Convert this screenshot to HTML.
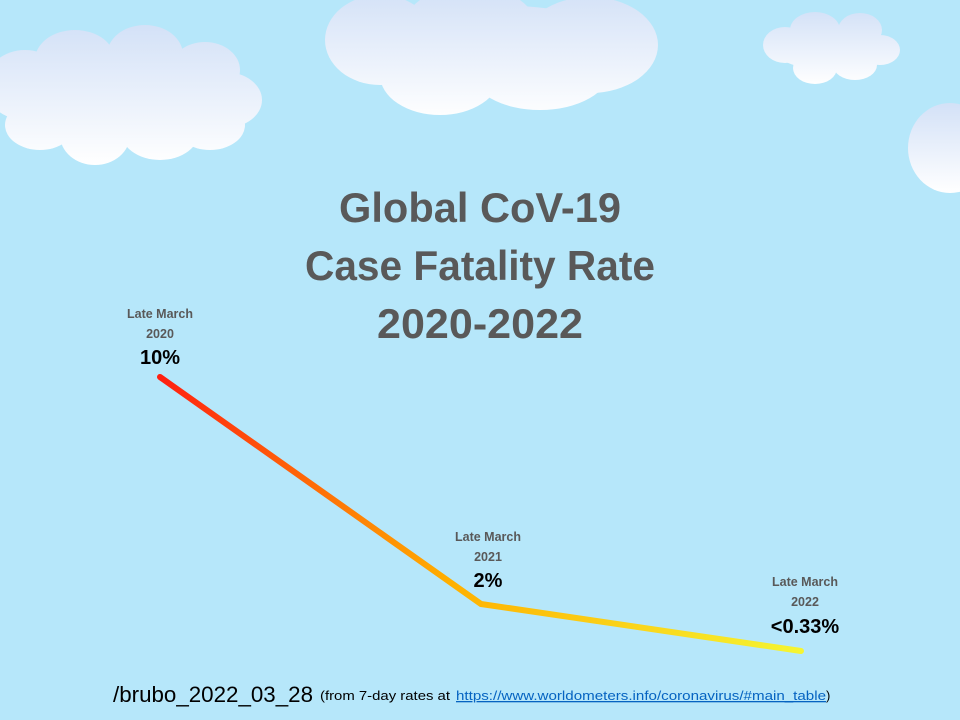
<!DOCTYPE html>
<html><head><style>body{margin:0}svg{display:block}</style></head><body>
<svg width="960" height="720" xmlns="http://www.w3.org/2000/svg" font-family="Liberation Sans, sans-serif">
<defs>
<linearGradient id="c1" gradientUnits="userSpaceOnUse" x1="0" y1="24" x2="0" y2="165"><stop offset="0" stop-color="#d3e1f7"/><stop offset="1" stop-color="#ffffff"/></linearGradient>
<linearGradient id="c2" gradientUnits="userSpaceOnUse" x1="0" y1="-10" x2="0" y2="120"><stop offset="0" stop-color="#d3e1f7"/><stop offset="1" stop-color="#ffffff"/></linearGradient>
<linearGradient id="c3" gradientUnits="userSpaceOnUse" x1="0" y1="10" x2="0" y2="85"><stop offset="0" stop-color="#d3e1f7"/><stop offset="1" stop-color="#ffffff"/></linearGradient>
<linearGradient id="c4" gradientUnits="userSpaceOnUse" x1="0" y1="103" x2="0" y2="193"><stop offset="0" stop-color="#d3e1f7"/><stop offset="1" stop-color="#ffffff"/></linearGradient>
<linearGradient id="lg" gradientUnits="userSpaceOnUse" x1="160" y1="377" x2="801" y2="651"><stop offset="0" stop-color="#ff2010"/><stop offset="0.5" stop-color="#ffb000"/><stop offset="1" stop-color="#f5f532"/></linearGradient>
</defs>
<rect width="960" height="720" fill="#b6e7fa"/>
<g fill="url(#c1)">
<ellipse cx="25" cy="85" rx="40" ry="35"/><ellipse cx="75" cy="60" rx="40" ry="30"/><ellipse cx="145" cy="55" rx="38" ry="30"/><ellipse cx="205" cy="70" rx="35" ry="28"/><ellipse cx="225" cy="100" rx="37" ry="28"/><ellipse cx="210" cy="125" rx="35" ry="25"/><ellipse cx="160" cy="130" rx="40" ry="30"/><ellipse cx="95" cy="135" rx="35" ry="30"/><ellipse cx="40" cy="125" rx="35" ry="25"/><ellipse cx="130" cy="100" rx="100" ry="45"/>
</g>
<g fill="url(#c2)">
<ellipse cx="380" cy="40" rx="55" ry="45"/><ellipse cx="470" cy="35" rx="70" ry="50"/><ellipse cx="590" cy="45" rx="68" ry="48"/><ellipse cx="540" cy="70" rx="70" ry="40"/><ellipse cx="440" cy="75" rx="60" ry="40"/><ellipse cx="490" cy="50" rx="150" ry="45"/>
</g>
<g fill="url(#c3)">
<ellipse cx="785" cy="45" rx="22" ry="18"/><ellipse cx="815" cy="30" rx="25" ry="18"/><ellipse cx="860" cy="30" rx="22" ry="17"/><ellipse cx="880" cy="50" rx="20" ry="15"/><ellipse cx="855" cy="65" rx="22" ry="15"/><ellipse cx="815" cy="68" rx="22" ry="16"/><ellipse cx="830" cy="50" rx="55" ry="20"/>
</g>
<ellipse cx="950" cy="148" rx="42" ry="45" fill="url(#c4)"/>
<g fill="#595959" font-weight="bold" text-anchor="middle" font-size="42">
<text x="480" y="222" textLength="282" lengthAdjust="spacingAndGlyphs">Global CoV-19</text>
<text x="480" y="280" textLength="350" lengthAdjust="spacingAndGlyphs">Case Fatality Rate</text>
<text x="480" y="338" textLength="206" lengthAdjust="spacingAndGlyphs">2020-2022</text>
</g>
<polyline points="160,377 481,604 801,651" fill="none" stroke="url(#lg)" stroke-width="6" stroke-linecap="round" stroke-linejoin="round"/>
<g text-anchor="middle" font-weight="bold">
<g fill="#595959" font-size="12.5">
<text x="160" y="318">Late March</text><text x="160" y="338">2020</text>
<text x="488" y="541">Late March</text><text x="488" y="561">2021</text>
<text x="805" y="586">Late March</text><text x="805" y="606">2022</text>
</g>
<g fill="#000" font-size="20">
<text x="160" y="364">10%</text><text x="488" y="587">2%</text><text x="805" y="633">&lt;0.33%</text>
</g>
</g>
<text x="113" y="702" font-size="22" fill="#000" textLength="200" lengthAdjust="spacingAndGlyphs">/brubo_2022_03_28</text>
<text x="320" y="700" font-size="13" fill="#000" textLength="130" lengthAdjust="spacingAndGlyphs">(from 7-day rates at</text>
<text x="456" y="700" font-size="13" fill="#0563c1" text-decoration="underline" textLength="370" lengthAdjust="spacingAndGlyphs">https://www.worldometers.info/coronavirus/#main_table</text>
<text x="826" y="700" font-size="13" fill="#000">)</text>
</svg>
</body></html>
